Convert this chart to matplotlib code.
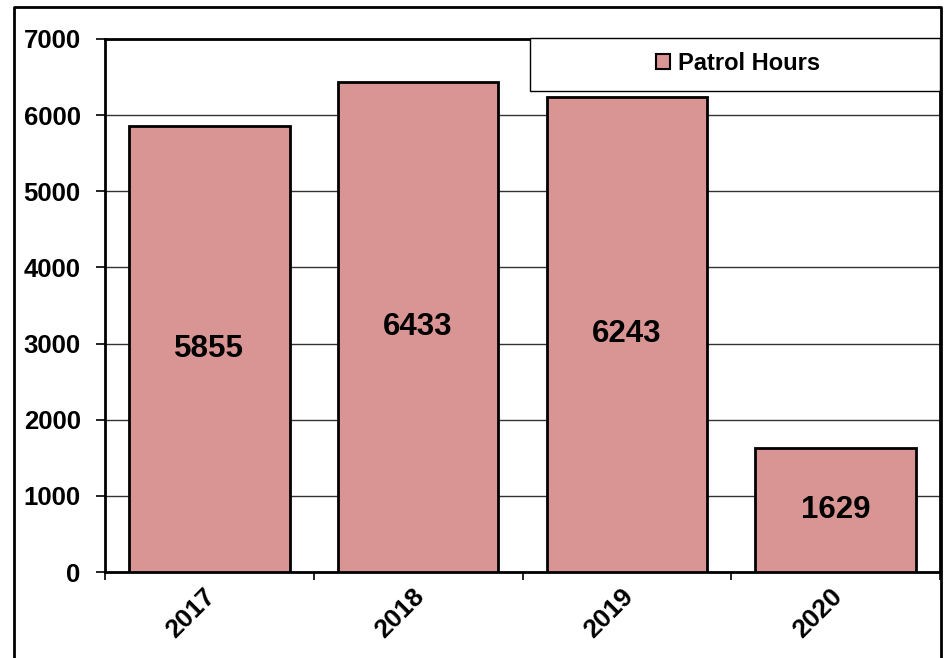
import numpy as np
import matplotlib
matplotlib.use("Agg")
import matplotlib.pyplot as plt
import matplotlib.transforms as mtransforms
from matplotlib.lines import Line2D
from matplotlib.patches import Rectangle

plt.rcParams['font.family'] = ['Liberation Sans', 'DejaVu Sans']
plt.rcParams['font.weight'] = 'bold'

years = ['2017', '2018', '2019', '2020']
patrol_hours = [5855, 6433, 6243, 1629]
series_name = 'Patrol Hours'
bar_color = '#D99594'

W, H = 946, 658
fig = plt.figure(figsize=(W / 100, H / 100), dpi=100)
ax = fig.add_axes([105 / W, 1 - 572 / H, 835 / W, 533 / H])

x = np.arange(len(years))
bars = ax.bar(x, patrol_hours, width=0.77, color=bar_color, edgecolor='black',
              linewidth=2, zorder=3, label=series_name)

for b, v in zip(bars, patrol_hours):
    ax.text(b.get_x() + b.get_width() / 2, v / 2, str(v), ha='center', va='center',
            fontsize=22.5, fontweight='bold', zorder=4)

ax.set_xlim(-0.5, len(years) - 0.5)
ax.set_ylim(0, 7000)
ax.set_yticks(np.arange(0, 7001, 1000))
ax.yaxis.grid(True, color='#333333', linewidth=1, zorder=0)

# x ticks between categories, labels at centres
ax.set_xticks(np.arange(-0.5, len(years) - 0.4, 1.0))
ax.set_xticklabels([])
ax.set_xticks(x, minor=True)
ax.set_xticklabels(years, minor=True, rotation=45, ha='right', va='top',
                   rotation_mode='anchor', fontsize=19, fontweight='bold')
ax.tick_params(axis='x', which='minor', length=0, pad=9)
ax.tick_params(axis='x', which='major', length=6, width=1.2, direction='out')
ax.tick_params(axis='y', length=6.5, width=1.2, labelsize=18.5, pad=11)
for lab in ax.get_yticklabels():
    lab.set_fontweight('bold')

# nudge the rotated year labels a little to the left
shift = mtransforms.ScaledTranslation(-6 / 100, 0, fig.dpi_scale_trans)
for lab in ax.get_xticklabels(minor=True):
    lab.set_transform(lab.get_transform() + shift)

for s in ax.spines.values():
    s.set_linewidth(2)
    s.set_color('black')

# legend box at top right
fig.patches.append(Rectangle((530 / W, 1 - 91 / H), 410 / W, 53 / H,
                             transform=fig.transFigure, facecolor='white',
                             edgecolor='black', linewidth=1, zorder=5))
leg = fig.legend(handles=[bars], labels=[series_name], loc='center',
                 bbox_to_anchor=(738 / W, 1 - 63 / H), frameon=False,
                 handlelength=0.6, handleheight=0.6, handletextpad=0.3,
                 prop={'size': 17, 'weight': 'bold'})
leg.set_zorder(6)
for h in leg.legend_handles:
    h.set_linewidth(1.5)

# outer border of the chart
fig.add_artist(Line2D([14 / W, 14 / W, 941 / W, 941 / W], [0, 1 - 7 / H, 1 - 7 / H, 0],
                      transform=fig.transFigure, color='black', linewidth=2))

fig.savefig('out.png', dpi=100)
